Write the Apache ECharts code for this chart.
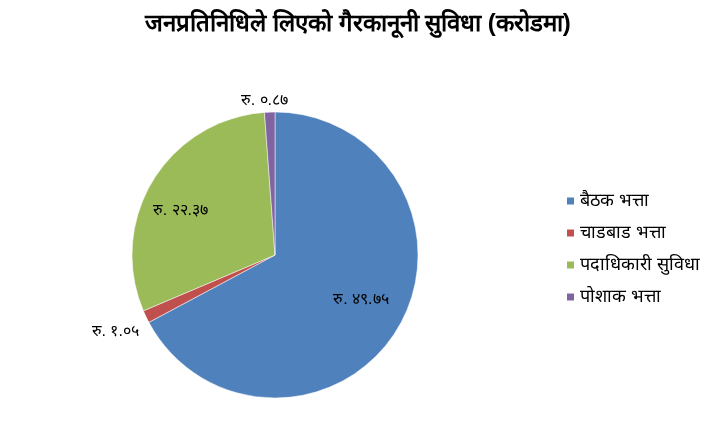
<!DOCTYPE html>
<html><head><meta charset="utf-8">
<script src="https://cdn.jsdelivr.net/npm/echarts@6/dist/echarts.min.js"></script>
<style>html,body{margin:0;padding:0;background:#fff}#c{width:716px;height:439px}</style>
</head><body><div id="c"></div>
<script>
const titleText = 'जनप्रतिनिधिले लिएको गैरकानूनी सुविधा (करोडमा)';
const categories = ['बैठक भत्ता', 'चाडबाड भत्ता', 'पदाधिकारी सुविधा', 'पोशाक भत्ता'];
const values = [49.75, 1.05, 22.37, 0.87];
const valueLabels = ['रु. ४९.७५', 'रु. १.०५', 'रु. २२.३७', 'रु. ०.८७'];
const colors = ['#4F81BD', '#C0504D', '#9BBB59', '#8064A2'];

const labelCfg = [
  {position: 'inside', offset: [22, 6]},
  {position: 'outside', offset: [16, 6]},
  {position: 'inside', offset: [-31, -6]},
  {position: 'outside', offset: [24, 8]}
];

const chart = echarts.init(document.getElementById('c'));
chart.setOption({
  animation: false,
  color: colors,
  title: {
    text: titleText, left: 'center', top: 7,
    textStyle: {fontSize: 24, fontWeight: 'bold', color: '#000'}
  },
  legend: {
    orient: 'vertical', left: 560, top: 187,
    itemWidth: 9, itemHeight: 9, itemGap: 14, icon: 'rect',
    textStyle: {fontSize: 18, color: '#000'},
    data: categories
  },
  series: [{
    type: 'pie',
    center: [275, 255], radius: 143,
    startAngle: 90, clockwise: true,
    label: {color: '#000', fontSize: 16},
    labelLine: {show: false, length: 20, length2: 0},
    itemStyle: {borderColor: '#fff', borderWidth: 0.5},
    data: categories.map((c, i) => ({
      name: c, value: values[i],
      label: {position: labelCfg[i].position, offset: labelCfg[i].offset, formatter: valueLabels[i]}
    }))
  }]
});
</script></body></html>
